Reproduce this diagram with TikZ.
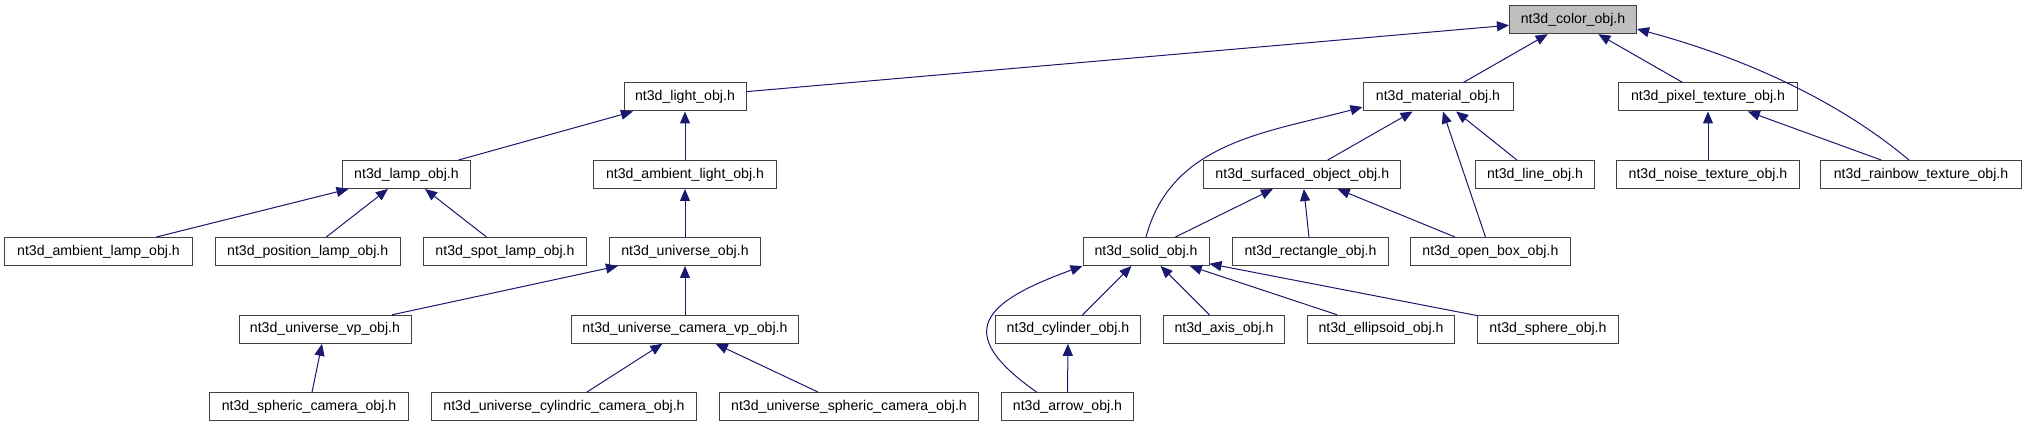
\documentclass[tikz,border=0pt]{standalone}
\usepackage{fontspec}
\setmainfont{Liberation Sans}
\usepackage{tikz}
\usetikzlibrary{arrows.meta}
\definecolor{IncEdge}{HTML}{191970}
\definecolor{IncLine}{HTML}{404040}
\definecolor{IncRoot}{HTML}{BFBFBF}
\tikzset{
incbox/.style={draw=IncLine, line width=0.75pt, fill=white, minimum height=21pt, inner sep=0pt, align=center},
incroot/.style={incbox, fill=IncRoot},
incarrow/.style={->, line width=0.75pt, draw=IncEdge}
}

\begin{document}
\begin{tikzpicture}[font=\fontsize{10.6}{12}\selectfont, >={Triangle[length=9pt,width=7.5pt]}, x=0.75pt, y=-0.75pt]
  \useasboundingbox[fill=white] (0,0) rectangle (2025,427);
  % row 1
  \node[incroot, minimum width=95.3pt] (color) at (1573,19.7) {nt3d\_color\_obj.h};
  % row 2
  \node[incbox, minimum width=91.5pt] (light) at (685,97) {nt3d\_light\_obj.h};
  \node[incbox, minimum width=112.5pt] (material) at (1438,97) {nt3d\_material\_obj.h};
  \node[incbox, minimum width=134pt] (pixtex) at (1708,97) {nt3d\_pixel\_texture\_obj.h};
  % row 3
  \node[incbox, minimum width=96pt] (lamp) at (406.5,174.5) {nt3d\_lamp\_obj.h};
  \node[incbox, minimum width=137.3pt] (amblight) at (685,174.5) {nt3d\_ambient\_light\_obj.h};
  \node[incbox, minimum width=148pt] (surfaced) at (1302.3,174.5) {nt3d\_surfaced\_object\_obj.h};
  \node[incbox, minimum width=89.7pt] (line) at (1535,174.5) {nt3d\_line\_obj.h};
  \node[incbox, minimum width=137pt] (noisetex) at (1708,174.5) {nt3d\_noise\_texture\_obj.h};
  \node[incbox, minimum width=150.4pt] (rainbowtex) at (1921,174.5) {nt3d\_rainbow\_texture\_obj.h};
  % row 4
  \node[incbox, minimum width=141pt] (amblamp) at (98.5,251.5) {nt3d\_ambient\_lamp\_obj.h};
  \node[incbox, minimum width=139pt] (poslamp) at (307.7,251.5) {nt3d\_position\_lamp\_obj.h};
  \node[incbox, minimum width=121.9pt] (spotlamp) at (505,251.5) {nt3d\_spot\_lamp\_obj.h};
  \node[incbox, minimum width=113.3pt] (universe) at (685,251.5) {nt3d\_universe\_obj.h};
  \node[incbox, minimum width=94.5pt] (solid) at (1146,251.5) {nt3d\_solid\_obj.h};
  \node[incbox, minimum width=117pt] (rectangle) at (1310.5,251.5) {nt3d\_rectangle\_obj.h};
  \node[incbox, minimum width=119.5pt] (openbox) at (1490.4,251.5) {nt3d\_open\_box\_obj.h};
  % row 5
  \node[incbox, minimum width=129pt] (univvp) at (325,329.3) {nt3d\_universe\_vp\_obj.h};
  \node[incbox, minimum width=170.5pt] (univcamvp) at (685,329.3) {nt3d\_universe\_camera\_vp\_obj.h};
  \node[incbox, minimum width=109.2pt] (cylinder) at (1068,329.3) {nt3d\_cylinder\_obj.h};
  \node[incbox, minimum width=91pt] (axis) at (1224,329.3) {nt3d\_axis\_obj.h};
  \node[incbox, minimum width=110pt] (ellipsoid) at (1381,329.3) {nt3d\_ellipsoid\_obj.h};
  \node[incbox, minimum width=105.3pt] (sphere) at (1548,329.3) {nt3d\_sphere\_obj.h};
  % row 6
  \node[incbox, minimum width=149pt] (sphcam) at (309,406.7) {nt3d\_spheric\_camera\_obj.h};
  \node[incbox, minimum width=198.5pt] (univcylcam) at (564,406.7) {nt3d\_universe\_cylindric\_camera\_obj.h};
  \node[incbox, minimum width=194pt] (univsphcam) at (849,406.7) {nt3d\_universe\_spheric\_camera\_obj.h};
  \node[incbox, minimum width=98.3pt] (arrow) at (1067.5,406.7) {nt3d\_arrow\_obj.h};
  % includes
  \draw[incarrow] (light) -- (color);
  \draw[incarrow] (material) -- (color);
  \draw[incarrow] (pixtex) -- (color);
  \draw[incarrow] ([xshift=-9pt]rainbowtex.north) to[out=140, in=-15, looseness=0.85] ([yshift=-7pt]color.east);
  \draw[incarrow] (lamp) -- (light);
  \draw[incarrow] (amblight) -- (light);
  \draw[incarrow] (solid.north) to[out=75, in=195] ([yshift=-7.5pt]material.west);
  \draw[incarrow] (surfaced) -- (material);
  \draw[incarrow] (openbox) -- (material);
  \draw[incarrow] (line) -- (material);
  \draw[incarrow] (noisetex) -- (pixtex);
  \draw[incarrow] (rainbowtex) -- (pixtex);
  \draw[incarrow] (amblamp) -- (lamp);
  \draw[incarrow] (poslamp) -- (lamp);
  \draw[incarrow] (spotlamp) -- (lamp);
  \draw[incarrow] (universe) -- (amblight);
  \draw[incarrow] (solid) -- (surfaced);
  \draw[incarrow] (rectangle) -- (surfaced);
  \draw[incarrow] (openbox) -- (surfaced);
  \draw[incarrow] (univvp) -- (universe);
  \draw[incarrow] (univcamvp) -- (universe);
  \draw[incarrow] (cylinder) -- (solid);
  \draw[incarrow] (axis) -- (solid);
  \draw[incarrow] (ellipsoid) -- (solid);
  \draw[incarrow] (sphere) -- (solid);
  \draw[incarrow] ([xshift=-23pt]arrow.north) to[out=145, in=200, looseness=2] (solid.south west);
  \draw[incarrow] (sphcam) -- (univvp);
  \draw[incarrow] (univcylcam) -- (univcamvp);
  \draw[incarrow] (univsphcam) -- (univcamvp);
  \draw[incarrow] (arrow) -- (cylinder);
\end{tikzpicture}
\end{document}
